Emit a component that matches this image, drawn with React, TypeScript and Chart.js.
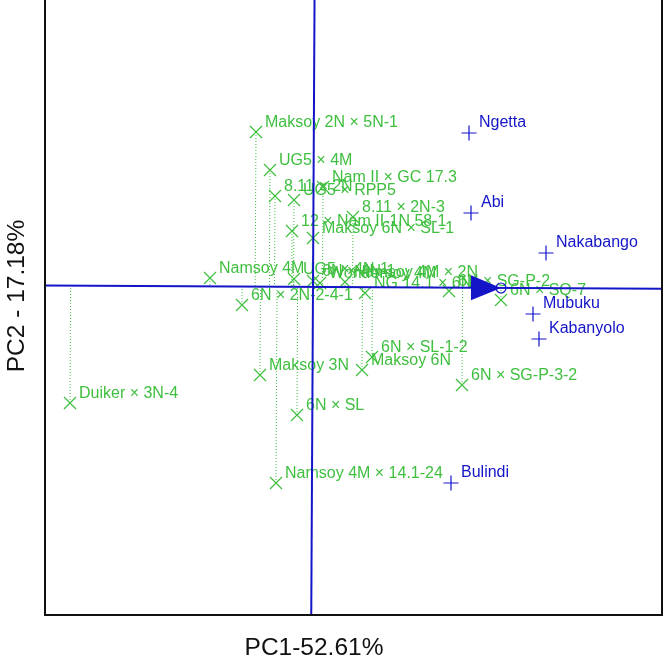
import React, { useEffect, useRef } from "react";
import { Chart, registerables } from "chart.js";

Chart.register(...registerables);

// Genotype scores (PC1, PC2)
const genoLabels = [
  "Maksoy 2N × 5N-1",
  "UG5 × 4M",
  "8.11 × 2N",
  "UG5 × RPP5",
  "Nam II × GC 17.3",
  "8.11 × 2N-3",
  "12 × Nam II-1N 58-1",
  "Maksoy 6N × SL-1",
  "Namsoy 4M",
  "6N × 2N-2-4-1",
  "UG5 × 4N-1",
  "6N × 4N-1",
  "Wondersoy 4M",
  "Namsoy 4M × 2N",
  "NG 14.1 × 6N",
  "6N × SG-P-2",
  "6N × SQ-7",
  "6N × SL-1-2",
  "Maksoy 6N",
  "6N × SG-P-3-2",
  "Maksoy 3N",
  "6N × SL",
  "Namsoy 4M × 14.1-24",
  "Duiker × 3N-4",
];
const genoX = [-0.57, -0.43, -0.38, -0.19, 0.1, 0.4, -0.21, 0.0, -1.03, -0.71, -0.19, 0.0, 0.07, 0.32, 0.52, 1.36, 1.88, 0.59, 0.49, 1.49, -0.53, -0.16, -0.37, -2.43];
const genoY = [1.55, 1.17, 0.91, 0.87, 1.0, 0.7, 0.56, 0.49, 0.09, -0.18, 0.08, 0.06, 0.04, 0.05, -0.06, -0.04, -0.13, -0.7, -0.83, -0.98, -0.88, -1.28, -1.96, -1.16];

// Environment scores (PC1, PC2)
const envLabels = ["Ngetta", "Abi", "Nakabango", "Mubuku", "Kabanyolo", "Bulindi"];
const envX = [1.56, 1.58, 2.33, 2.2, 2.26, 1.38];
const envY = [1.54, 0.74, 0.34, -0.27, -0.52, -1.96];

// Average environment coordinate
const aecX = [1.88];
const aecY = [-0.01];

const xTitle = "PC1-52.61%";
const yTitle = "PC2 - 17.18%";

const GREEN = "#3fbf3f";
const BLUE = "#1414c8";
const FONT = '"Liberation Sans", Arial, Helvetica, sans-serif';

const biplotPlugin = {
  id: "biplot",
  beforeDatasetsDraw(chart: any) {
    const { ctx, chartArea, scales } = chart;
    const xs = scales.x, ys = scales.y;
    const n = Math.hypot(aecX[0], aecY[0]);
    const dx = aecX[0] / n, dy = aecY[0] / n;
    ctx.save();
    ctx.beginPath();
    ctx.rect(chartArea.left, chartArea.top, chartArea.right - chartArea.left, chartArea.bottom - chartArea.top);
    ctx.clip();
    ctx.strokeStyle = GREEN;
    ctx.lineWidth = 1;
    ctx.setLineDash([1, 2]);
    genoX.forEach((x, i) => {
      const y = genoY[i];
      const t = x * dx + y * dy;
      ctx.beginPath();
      ctx.moveTo(xs.getPixelForValue(x), ys.getPixelForValue(y));
      ctx.lineTo(xs.getPixelForValue(t * dx), ys.getPixelForValue(t * dy));
      ctx.stroke();
    });
    ctx.restore();
  },
  afterDatasetsDraw(chart: any) {
    const { ctx, chartArea, scales } = chart;
    const xs = scales.x, ys = scales.y;
    ctx.save();
    ctx.font = "16px " + FONT;
    ctx.textBaseline = "middle";
    ctx.textAlign = "left";
    ctx.fillStyle = GREEN;
    genoLabels.forEach((l, i) => {
      ctx.fillText(l, xs.getPixelForValue(genoX[i]) + 9, ys.getPixelForValue(genoY[i]) - 9);
    });
    ctx.fillStyle = BLUE;
    envLabels.forEach((l, i) => {
      ctx.fillText(l, xs.getPixelForValue(envX[i]) + 10, ys.getPixelForValue(envY[i]) - 10);
    });

    // axes through origin (AEC abscissa and ordinate)
    ctx.save();
    ctx.beginPath();
    ctx.rect(chartArea.left, chartArea.top, chartArea.right - chartArea.left, chartArea.bottom - chartArea.top);
    ctx.clip();
    const n = Math.hypot(aecX[0], aecY[0]);
    const dx = aecX[0] / n, dy = aecY[0] / n;
    const L = 20;
    ctx.strokeStyle = BLUE;
    ctx.lineWidth = 2;
    ctx.beginPath();
    ctx.moveTo(xs.getPixelForValue(-L * dx), ys.getPixelForValue(-L * dy));
    ctx.lineTo(xs.getPixelForValue(L * dx), ys.getPixelForValue(L * dy));
    ctx.stroke();
    ctx.beginPath();
    ctx.moveTo(xs.getPixelForValue(L * dy), ys.getPixelForValue(-L * dx));
    ctx.lineTo(xs.getPixelForValue(-L * dy), ys.getPixelForValue(L * dx));
    ctx.stroke();
    ctx.restore();

    // arrow head at AEC
    const tx = xs.getPixelForValue(aecX[0]);
    const ty = ys.getPixelForValue(aecY[0]);
    const ox = xs.getPixelForValue(0), oy = ys.getPixelForValue(0);
    const ang = Math.atan2(ty - oy, tx - ox);
    const hl = 30, hw = 12.5;
    ctx.fillStyle = BLUE;
    ctx.beginPath();
    ctx.moveTo(tx, ty);
    ctx.lineTo(tx - hl * Math.cos(ang) - hw * Math.sin(ang), ty - hl * Math.sin(ang) + hw * Math.cos(ang));
    ctx.lineTo(tx - hl * Math.cos(ang) + hw * Math.sin(ang), ty - hl * Math.sin(ang) - hw * Math.cos(ang));
    ctx.closePath();
    ctx.fill();
    ctx.strokeStyle = BLUE;
    ctx.lineWidth = 1.2;
    ctx.beginPath();
    ctx.arc(tx, ty, 5, 0, Math.PI * 2);
    ctx.stroke();

    // frame
    ctx.strokeStyle = "#111";
    ctx.lineWidth = 2;
    ctx.beginPath();
    ctx.moveTo(chartArea.left, chartArea.top);
    ctx.lineTo(chartArea.left, chartArea.bottom);
    ctx.lineTo(chartArea.right, chartArea.bottom);
    ctx.lineTo(chartArea.right, chartArea.top);
    ctx.stroke();

    // titles
    ctx.fillStyle = "#111";
    ctx.font = "24.5px " + FONT;
    ctx.textAlign = "center";
    ctx.textBaseline = "middle";
    ctx.fillText(xTitle, 314, 648);
    ctx.translate(17, 296);
    ctx.rotate(-Math.PI / 2);
    ctx.fillText(yTitle, 0, 0);
    ctx.restore();
  },
};

export default function App() {
  const ref = useRef<HTMLCanvasElement>(null);
  useEffect(() => {
    document.body.style.margin = "0";
    const chart = new Chart(ref.current!, {
      type: "scatter",
      data: {
        datasets: [
          {
            label: "Genotypes",
            data: genoX.map((x, i) => ({ x, y: genoY[i] })),
            pointStyle: "crossRot",
            radius: 8.5,
            borderColor: GREEN,
            backgroundColor: GREEN,
            borderWidth: 1.2,
          },
          {
            label: "Environments",
            data: envX.map((x, i) => ({ x, y: envY[i] })),
            pointStyle: "cross",
            radius: 7.5,
            borderColor: BLUE,
            backgroundColor: BLUE,
            borderWidth: 1.2,
          },
        ],
      },
      options: {
        animation: false,
        responsive: false,
        events: [],
        layout: { autoPadding: false, padding: { left: 45, right: 2, top: 0, bottom: 46 } },
        plugins: { legend: { display: false }, tooltip: { enabled: false } },
        scales: {
          x: { type: "linear", min: -2.68, max: 3.49, display: false },
          y: { type: "linear", min: -3.28, max: 2.87, display: false },
        },
      },
      plugins: [biplotPlugin],
    });
    return () => chart.destroy();
  }, []);
  return <canvas ref={ref} width={664} height={661} style={{ display: "block" }} />;
}
